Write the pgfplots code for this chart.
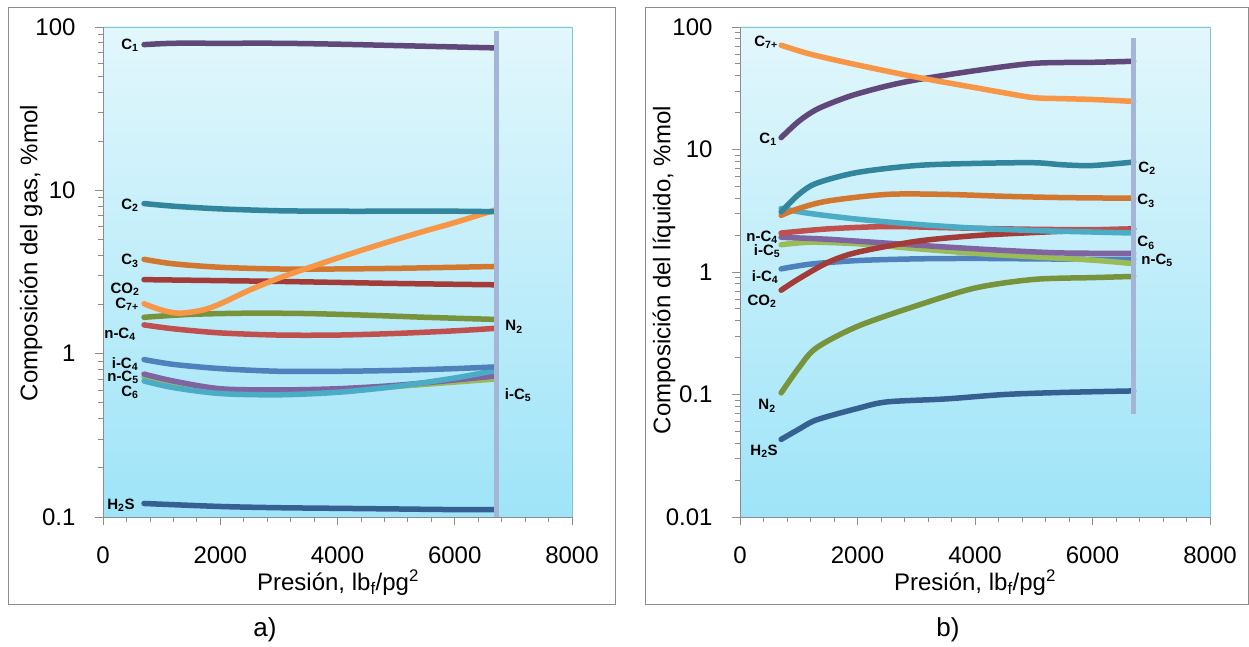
\documentclass[border=0pt]{standalone}
\usepackage{pgfplots}
\pgfplotsset{compat=1.18}
\usepackage{fontspec}
\setmainfont{Liberation Sans}
\definecolor{cC1}{HTML}{60497A}
\definecolor{cC2}{HTML}{31859C}
\definecolor{cC3}{HTML}{D2772F}
\definecolor{cCO2}{HTML}{A33B38}
\definecolor{cC7}{HTML}{F79646}
\definecolor{cN2}{HTML}{77933C}
\definecolor{cnC4}{HTML}{C0504D}
\definecolor{ciC4}{HTML}{4F81BD}
\definecolor{cnC5}{HTML}{8064A2}
\definecolor{cC6}{HTML}{4BACC6}
\definecolor{ciC5}{HTML}{9BBB59}
\definecolor{cH2S}{HTML}{376092}
\definecolor{cVL}{HTML}{A5B5D5}
\definecolor{bgtop}{HTML}{E2F7FC}
\definecolor{bgbot}{HTML}{9EE4F8}
\definecolor{framegray}{HTML}{8C8C8C}
\newcommand{\lab}[3]{\node[font=\fontsize{15}{17}\selectfont\bfseries, inner sep=0pt] at (#1,646-#2) {#3};}
\newcommand{\sub}[1]{\textsubscript{\bfseries #1}}
\pgfplotsset{
  mypanel/.style={
    scale only axis, height=490pt,
    xmin=0, xmax=8000, xtick={0,2000,4000,6000,8000},
    xticklabels={0,2000,4000,6000,8000},
    minor x tick num=4,
    axis x line*=bottom, axis y line*=left,
    axis line style={framegray, line width=0.8pt},
    every tick/.style={framegray, line width=0.8pt},
    tick align=outside,
    major tick length=8pt, minor tick length=5pt,
    tick label style={font=\fontsize{24}{26}\selectfont},
    xticklabel style={yshift=-18pt},
    yticklabel style={xshift=-16pt},
    axis background/.style={top color=bgtop, bottom color=bgbot, draw=cC6!70, line width=0.8pt},
    clip=false,
  },
  ser/.style={line width=5.5pt, line cap=round, smooth, no markers, color=#1},
}
\begin{document}
\begin{tikzpicture}[x=1pt,y=1pt]
% outer frames
\draw[framegray, line width=1pt] (8,646-8) rectangle (615,646-604);
\draw[framegray, line width=1pt] (645,646-8) rectangle (1248.5,646-604);

% ---------------- panel a ----------------
\begin{axis}[ymode=log, mypanel, width=469pt, at={(103pt,129pt)}, anchor=south west,
  ymin=0.1, ymax=100, ytick={0.1,1,10,100}, yticklabels={0.1,1,10,100}]
\addplot[ser=ciC5] coordinates {(700,0.72)(1200,0.65)(2000,0.59)(3000,0.58)(4000,0.60)(5000,0.63)(6000,0.67)(6700,0.70)};
\addplot[ser=cnC5] coordinates {(700,0.75)(1200,0.68)(2000,0.61)(3000,0.60)(4000,0.61)(5000,0.64)(6000,0.69)(6700,0.73)};
\addplot[ser=cC6] coordinates {(700,0.68)(1200,0.62)(2000,0.57)(3000,0.56)(4000,0.58)(5000,0.63)(6000,0.71)(6700,0.79)};
\addplot[ser=ciC4] coordinates {(700,0.92)(1200,0.86)(2000,0.81)(3000,0.78)(4000,0.78)(5000,0.79)(6000,0.81)(6700,0.83)};
\addplot[ser=cnC4] coordinates {(700,1.50)(1200,1.42)(2000,1.34)(3000,1.30)(4000,1.30)(5000,1.33)(6000,1.38)(6700,1.43)};
\addplot[ser=cN2] coordinates {(700,1.67)(1500,1.74)(2500,1.77)(3500,1.76)(4500,1.72)(5500,1.67)(6700,1.62)};
\addplot[ser=cCO2] coordinates {(700,2.84)(2000,2.80)(3000,2.77)(4000,2.73)(5000,2.69)(6000,2.66)(6700,2.64)};
\addplot[ser=cC3] coordinates {(700,3.78)(1200,3.55)(2000,3.38)(3000,3.30)(4000,3.30)(5000,3.33)(6000,3.38)(6700,3.42)};
\addplot[ser=cC7] coordinates {(700,2.02)(1000,1.85)(1300,1.77)(1700,1.85)(2000,2.02)(2500,2.45)(3000,2.9)(3500,3.35)(4000,3.85)(4500,4.4)(5000,5.0)(5500,5.65)(6000,6.35)(6700,7.6)};
\addplot[ser=cC2] coordinates {(700,8.3)(1200,8.0)(2000,7.7)(3000,7.5)(4000,7.45)(5000,7.45)(6000,7.45)(6700,7.4)};
\addplot[ser=cC1] coordinates {(700,78)(1200,79.5)(2000,79.5)(3000,79.5)(4000,78.5)(5000,77)(6000,75.5)(6700,74.5)};
\addplot[ser=cH2S] coordinates {(700,0.121)(2000,0.116)(3000,0.114)(4000,0.113)(5000,0.112)(6000,0.111)(6700,0.111)};
\addplot[line width=5pt, color=cVL, no markers] coordinates {(6720,0.1)(6720,95)};
\end{axis}

% ---------------- panel b ----------------
\begin{axis}[ymode=log, mypanel, width=470pt, at={(740pt,129pt)}, anchor=south west,
  ymin=0.01, ymax=100, ytick={0.01,0.1,1,10,100}, yticklabels={0.01,0.1,1,10,100}]
\addplot[ser=cH2S] coordinates {(700,0.043)(1000,0.052)(1300,0.062)(2000,0.077)(2500,0.087)(3500,0.092)(4500,0.1)(5500,0.104)(6700,0.107)};
\addplot[ser=cN2] coordinates {(700,0.103)(1000,0.165)(1300,0.24)(2000,0.36)(3000,0.53)(4000,0.74)(5000,0.87)(6000,0.9)(6700,0.92)};
\addplot[ser=ciC4] coordinates {(700,1.06)(1200,1.16)(2000,1.24)(3000,1.28)(4000,1.29)(5000,1.28)(6000,1.27)(6700,1.27)};
\addplot[ser=ciC5] coordinates {(700,1.67)(1200,1.75)(2000,1.70)(3000,1.55)(4000,1.42)(5000,1.33)(6000,1.25)(6700,1.17)};
\addplot[ser=cnC5] coordinates {(700,1.92)(1500,1.85)(2500,1.72)(3500,1.60)(4500,1.50)(5500,1.43)(6700,1.42)};
\addplot[ser=cCO2] coordinates {(700,0.71)(1000,0.88)(1500,1.2)(2000,1.45)(3000,1.78)(4000,1.98)(5000,2.1)(6000,2.2)(6700,2.25)};
\addplot[ser=cnC4] coordinates {(700,2.08)(1500,2.25)(2500,2.35)(3500,2.30)(4500,2.25)(5500,2.22)(6700,2.22)};
\addplot[ser=cC6] coordinates {(700,3.3)(1200,3.0)(2000,2.7)(3000,2.45)(4000,2.28)(5000,2.18)(6000,2.12)(6700,2.08)};
\addplot[ser=cC3] coordinates {(700,2.9)(1000,3.3)(1500,3.8)(2500,4.3)(3500,4.3)(4500,4.15)(5500,4.05)(6700,4.0)};
\addplot[ser=cC2] coordinates {(700,3.1)(1000,4.3)(1300,5.3)(2000,6.5)(3000,7.4)(4000,7.7)(5000,7.8)(5500,7.5)(6000,7.4)(6700,7.9)};
\addplot[ser=cC1] coordinates {(700,12.5)(1000,17)(1300,21.2)(1700,25.5)(2000,28.5)(2500,33)(3000,37)(4000,44)(5000,50.5)(6000,51.5)(6700,52.5)};
\addplot[ser=cC7] coordinates {(700,71)(1200,60)(2000,49)(3000,39)(4000,32)(4500,29)(5000,26.5)(5500,26)(6000,25.6)(6700,24.7)};
\addplot[line width=5pt, color=cVL, no markers] coordinates {(6690,0.069)(6690,81)};
\end{axis}

% axis labels
\node[rotate=90, font=\fontsize{24}{26}\selectfont] at (31,646-253) {Composición del gas, \%mol};
\node[rotate=90, font=\fontsize{24}{26}\selectfont] at (664,646-270) {Composición del líquido, \%mol};
\node[font=\fontsize{24}{26}\selectfont] at (338,646-583) {Presión, lb\textsubscript{f}/pg\textsuperscript{2}};
\node[font=\fontsize{24}{26}\selectfont] at (975,646-583) {Presión, lb\textsubscript{f}/pg\textsuperscript{2}};
\node[font=\fontsize{26}{28}\selectfont] at (265,646-630) {a)};
\node[font=\fontsize{26}{28}\selectfont] at (948,646-630) {b)};

% species labels panel a
\lab{130}{45}{C\sub{1}}
\lab{130}{205}{C\sub{2}}
\lab{130}{261}{C\sub{3}}
\lab{125}{289}{CO\sub{2}}
\lab{127}{304}{C\sub{7+}}
\lab{120}{334}{n-C\sub{4}}
\lab{125}{364}{i-C\sub{4}}
\lab{123}{377}{n-C\sub{5}}
\lab{130}{392}{C\sub{6}}
\lab{121}{505}{H\sub{2}S}
\lab{514}{327}{N\sub{2}}
\lab{518}{395}{i-C\sub{5}}
% species labels panel b
\lab{766}{42}{C\sub{7+}}
\lab{768}{139}{C\sub{1}}
\lab{762}{237}{n-C\sub{4}}
\lab{767}{251}{i-C\sub{5}}
\lab{765}{277}{i-C\sub{4}}
\lab{762}{301}{CO\sub{2}}
\lab{767}{406}{N\sub{2}}
\lab{764}{451}{H\sub{2}S}
\lab{1147}{168}{C\sub{2}}
\lab{1146}{201}{C\sub{3}}
\lab{1146}{243}{C\sub{6}}
\lab{1157}{260}{n-C\sub{5}}

\pgfresetboundingbox
\path (0,0) rectangle (1249,646);
\end{tikzpicture}
\end{document}
